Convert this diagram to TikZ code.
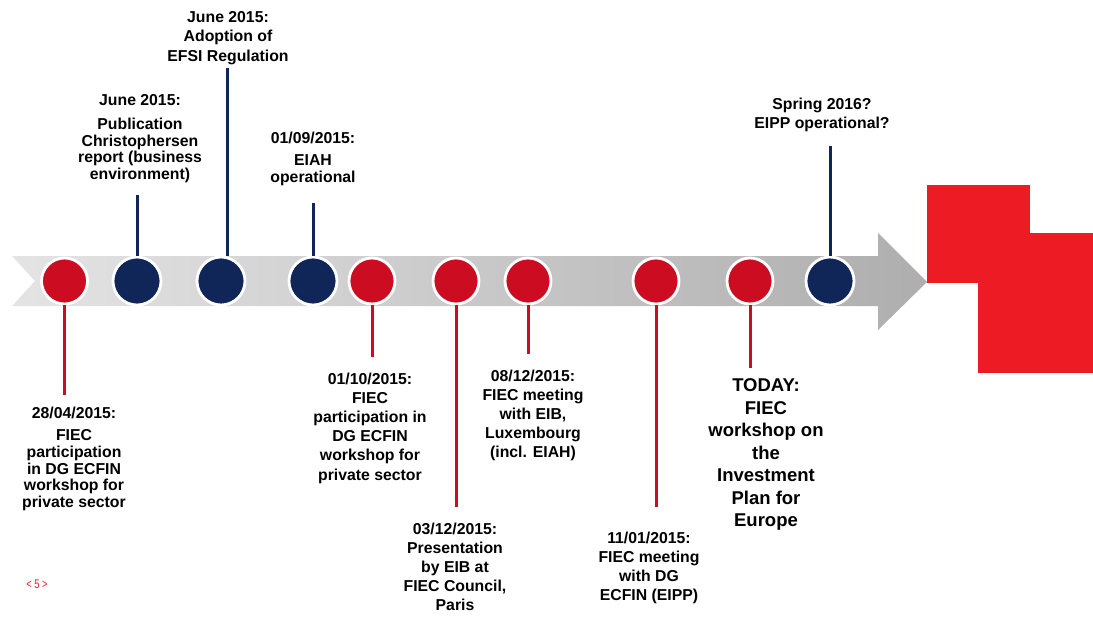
\documentclass[tikz,border=0pt]{standalone}
\usepackage{fontspec}
\setmainfont{Liberation Sans}
\newfontfamily\narrowpg[FakeStretch=0.75]{Liberation Sans}
\definecolor{dotred}{RGB}{204,12,33}
\definecolor{navy}{RGB}{16,38,89}
\definecolor{boxred}{RGB}{237,28,36}
\definecolor{arrowL}{RGB}{228,228,228}
\definecolor{arrowR}{RGB}{174,174,174}
\tikzset{
  dotr/.style={circle,fill=dotred,draw=white,line width=2.8pt,minimum size=46pt,inner sep=0pt},
  dotn/.style={circle,fill=navy,draw=white,line width=2.8pt,minimum size=48pt,inner sep=0pt},
  redline/.style={draw=dotred,line width=3pt},
  navyline/.style={draw=navy,line width=3pt},
  lblwide/.style={align=center,inner sep=0pt,anchor=north,font=\bfseries\fontsize{15.8}{19.2}\selectfont},
  lblnarrow/.style={align=center,inner sep=0pt,anchor=north,font=\bfseries\fontsize{15.8}{16.7}\selectfont},
  lblbig/.style={align=center,inner sep=0pt,anchor=north,font=\bfseries\fontsize{18.5}{22.5}\selectfont},
}
\begin{document}
\begin{tikzpicture}[x=1pt,y=-1pt]
\useasboundingbox (0,0) rectangle (1093,623);
% arrow
\shade[left color=arrowL,right color=arrowR,shading angle=90]
  (12,256) -- (878,256) -- (878,233) -- (927,282) -- (878,330) -- (878,306) -- (12,306) -- (35,281) -- cycle;
% red squares
\fill[boxred] (927,185) rectangle (1030,283);
\fill[boxred] (978,233) rectangle (1093,373);
% dots
\node[dotr] (c1) at (64.5,281) {};
\node[dotn] (c2) at (137,281) {};
\node[dotn] (c3) at (221,281) {};
\node[dotn] (c4) at (313,281) {};
\node[dotr] (c5) at (372,281) {};
\node[dotr] (c6) at (456,281) {};
\node[dotr] (c7) at (528,281) {};
\node[dotr] (c8) at (656,281) {};
\node[dotr] (c9) at (750,281) {};
\node[dotn] (c10) at (830,281) {};
% line ends
\coordinate (e1) at (64.5,395);
\coordinate (e2) at (137,195);
\coordinate (e3) at (227,68);
\coordinate (e4) at (313,203);
\coordinate (e5) at (372,357);
\coordinate (e6) at (456,507);
\coordinate (e7) at (528,354);
\coordinate (e8) at (656,507);
\coordinate (e9) at (750,368);
\coordinate (e10) at (830,146);
\draw[redline] (c1.south) -- (e1);
\draw[navyline] (c2.north) -- (e2);
\draw[navyline] (e3 |- c3.north) -- (e3);
\draw[navyline] (c4.north) -- (e4);
\draw[redline] (c5.south) -- (e5);
\draw[redline] (c6.south) -- (e6);
\draw[redline] (c7.south) -- (e7);
\draw[redline] (c8.south) -- (e8);
\draw[redline] (c9.south) -- (e9);
\draw[navyline] (c10.north) -- (e10);
% labels
\node[lblnarrow] (t1) at (74,406.5) {28/04/2015:\\[6pt]FIEC\\participation\\in DG ECFIN\\workshop for\\private sector};
\node[lblnarrow] (t2) at (140,94.5) {June 2015:\\[7pt]Publication\\Christophersen\\report (business\\environment)};
\node[lblwide] (t3) at (228,11.5) {June 2015:\\Adoption of\\EFSI Regulation};
\node[lblnarrow] (t4) at (313,131.5) {01/09/2015:\\[6pt]EIAH\\operational};
\node[lblwide] (t5) at (370,372.5) {01/10/2015:\\FIEC\\participation in\\DG ECFIN\\workshop for\\private sector};
\node[lblwide] (t6) at (455,522.5) {03/12/2015:\\Presentation\\by EIB at\\FIEC Council,\\Paris};
\node[lblwide] (t7) at (533,369.5) {08/12/2015:\\FIEC meeting\\with EIB,\\Luxembourg\\(incl. EIAH)};
\node[lblwide] (t8) at (649,531.5) {11/01/2015:\\FIEC meeting\\with DG\\ECFIN (EIPP)};
\node[lblbig] (t9) at (766,378.5) {TODAY:\\FIEC\\workshop on\\the\\Investment\\Plan for\\Europe};
\node[lblwide] (t10) at (822,97.5) {Spring 2016?\\EIPP operational?};
\node[text=boxred,font=\narrowpg\fontsize{12.5}{14}\selectfont,inner sep=0pt] (pg) at (37,584) {< 5 >};
\end{tikzpicture}
\end{document}
